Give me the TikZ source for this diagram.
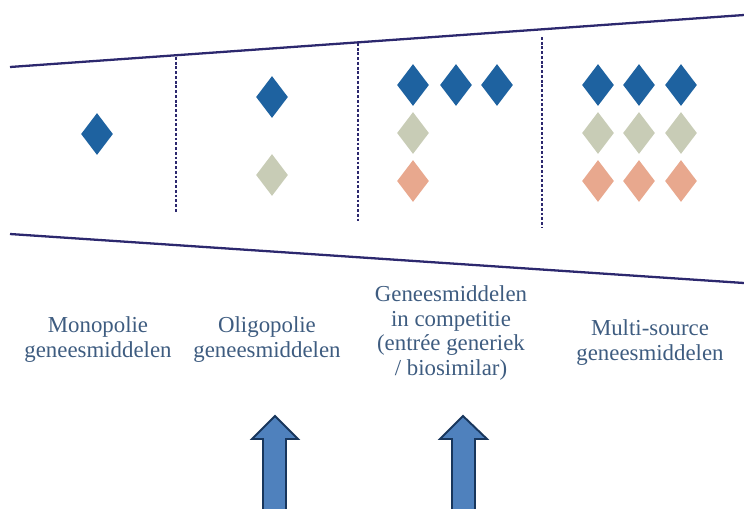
\documentclass[tikz,border=0pt]{standalone}
\usepackage{fontspec}
\setmainfont{Liberation Serif}
\usetikzlibrary{shapes,positioning}

\definecolor{kaderblauw}{RGB}{44,40,110}
\definecolor{ruitblauw}{RGB}{30,98,160}
\definecolor{ruitgrijs}{RGB}{200,204,182}
\definecolor{ruitroze}{RGB}{232,168,142}
\definecolor{tekstblauw}{RGB}{62,92,128}
\definecolor{pijlblauw}{RGB}{79,129,189}
\definecolor{pijlrand}{RGB}{24,54,92}

\begin{document}
\begin{tikzpicture}[x=0.02cm, y=-0.02cm,
    ruit/.style={diamond, draw=none, inner sep=0pt, minimum width=0.64cm, minimum height=0.84cm},
    blauw/.style={ruit, fill=ruitblauw},
    grijs/.style={ruit, fill=ruitgrijs},
    roze/.style={ruit, fill=ruitroze},
    kader/.style={draw=kaderblauw, line width=1.3pt},
    scheiding/.style={draw=kaderblauw, line width=1pt, dash pattern=on 1.6pt off 1.1pt},
    markt/.style={text=tekstblauw, align=center, font=\fontsize{13}{14.2}\selectfont},
    pijl/.style={draw=pijlrand, fill=pijlblauw, line width=1.1pt, line join=miter}
]
    \useasboundingbox (0,0) rectangle (744,508);

    % Kader (trechter)
    \coordinate (bl) at (10,67);
    \coordinate (br) at (744,15);
    \coordinate (ol) at (10,234);
    \coordinate (or) at (744,283);
    \draw[kader] (bl) -- (br);
    \draw[kader] (ol) -- (or);

    % Scheidingslijnen
    \coordinate (s1a) at (176,57);  \coordinate (s1b) at (176,213);
    \coordinate (s2a) at (358,43);  \coordinate (s2b) at (358,223);
    \coordinate (s3a) at (542,37);  \coordinate (s3b) at (542,228);
    \draw[scheiding] (s1a) -- (s1b);
    \draw[scheiding] (s2a) -- (s2b);
    \draw[scheiding] (s3a) -- (s3b);

    % Ruiten
    \node[blauw] (mono) at (97,134) {};
    \node[blauw] (oli1) at (272,97) {};
    \node[grijs] (oli2) at (272,175) {};
    \node[blauw] (com1) at (413,85) {};
    \node[blauw] (com2) at (456,85) {};
    \node[blauw] (com3) at (497,85) {};
    \node[grijs] (com4) at (413,133) {};
    \node[roze]  (com5) at (413,181) {};
    \node[blauw] (mul1) at (598,85) {};
    \node[blauw] (mul2) at (639,85) {};
    \node[blauw] (mul3) at (681,85) {};
    \node[grijs] (mul4) at (598,133) {};
    \node[grijs] (mul5) at (639,133) {};
    \node[grijs] (mul6) at (681,133) {};
    \node[roze]  (mul7) at (598,181) {};
    \node[roze]  (mul8) at (639,181) {};
    \node[roze]  (mul9) at (681,181) {};

    % Marktsegmenten
    \node[markt] (tmono) at (98,340) {Monopolie\\geneesmiddelen};
    \node[markt] (toli) at (267,340) {Oligopolie\\geneesmiddelen};
    \node[markt] (tcom) at (451,333) {Geneesmiddelen\\in competitie\\(entrée generiek\\/ biosimilar)};
    \node[markt] (tmul) at (650,343) {Multi-source\\geneesmiddelen};

    % Pijlen
    \draw[pijl] (263,512) -- (263,439) -- (252,439) -- (275,416) -- (298,439) -- (286,439) -- (286,512);
    \draw[pijl] (452,512) -- (452,439) -- (440,439) -- (463,416) -- (487,439) -- (475,439) -- (475,512);

\end{tikzpicture}
\end{document}
